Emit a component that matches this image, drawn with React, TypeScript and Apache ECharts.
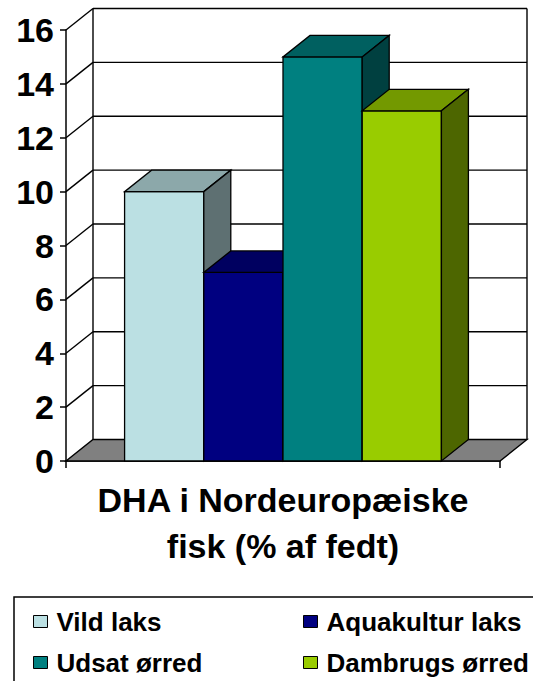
import React, { useEffect, useRef } from "react";
import * as echarts from "echarts";

const CATEGORIES = ["DHA i Nordeuropæiske\nfisk (% af fedt)"];
const SERIES_NAMES = ["Vild laks", "Aquakultur laks", "Udsat ørred", "Dambrugs ørred"];
const SERIES_VALUES = [10, 7, 15, 13];
const Y_TICKS = [0, 2, 4, 6, 8, 10, 12, 14, 16];
const FRONT_COLORS = ["#BBE0E3", "#000080", "#008080", "#99CC00"];
const TOP_COLORS = ["#8CA8AA", "#000060", "#006060", "#739900"];
const SIDE_COLORS = ["#5E7072", "#000040", "#004040", "#4D6600"];

const FONT = "'Liberation Sans', Arial, Helvetica, sans-serif";
const DX = 27;
const DY = -21.5;
const GROUP_FRAC = 0.73;
const Y_MIN = Y_TICKS[0];
const Y_MAX = Y_TICKS[Y_TICKS.length - 1];

function renderWall(params: any, api: any) {
  const cs = params.coordSys;
  const v = api.value(1);
  const y = api.coord([0, v])[1];
  const x0 = cs.x;
  const x1 = cs.x + cs.width;
  const style = { stroke: "#000", lineWidth: 1.4, fill: null };
  if (v === Y_MIN) {
    const yTop = api.coord([0, Y_MAX])[1];
    return {
      type: "group",
      children: [
        {
          type: "polygon",
          shape: { points: [[x0, y], [x1, y], [x1 + DX, y + DY], [x0 + DX, y + DY]] },
          style: { fill: "#808080", stroke: "#000", lineWidth: 1.4 },
        },
        { type: "line", shape: { x1: x0 + DX, y1: yTop + DY, x2: x0 + DX, y2: y + DY }, style },
        { type: "line", shape: { x1: x1 + DX, y1: yTop + DY, x2: x1 + DX, y2: y + DY }, style },
      ],
    };
  }
  return {
    type: "group",
    children: [
      { type: "line", shape: { x1: x0, y1: y, x2: x0 + DX, y2: y + DY }, style },
      { type: "line", shape: { x1: x0 + DX, y1: y + DY, x2: x1 + DX, y2: y + DY }, style },
    ],
  };
}

function makeBarRenderer(i: number) {
  return (params: any, api: any) => {
    const cs = params.coordSys;
    const n = SERIES_NAMES.length;
    const groupW = cs.width * GROUP_FRAC;
    const barW = groupW / n;
    const center = api.coord([api.value(0), 0])[0];
    const left = center - groupW / 2 + i * barW;
    const right = left + barW;
    const yTop = api.coord([api.value(0), api.value(1)])[1];
    const yBase = api.coord([api.value(0), Y_MIN])[1];
    const st = { stroke: "#000", lineWidth: 1.3 };
    return {
      type: "group",
      children: [
        {
          type: "rect",
          shape: { x: left, y: yTop, width: barW, height: yBase - yTop },
          style: { ...st, fill: FRONT_COLORS[i] },
        },
        {
          type: "polygon",
          shape: { points: [[left, yTop], [right, yTop], [right + DX, yTop + DY], [left + DX, yTop + DY]] },
          style: { ...st, fill: TOP_COLORS[i] },
        },
        {
          type: "polygon",
          shape: { points: [[right, yTop], [right + DX, yTop + DY], [right + DX, yBase + DY], [right, yBase]] },
          style: { ...st, fill: SIDE_COLORS[i] },
        },
      ],
    };
  };
}

export default function App() {
  const ref = useRef<HTMLDivElement>(null);
  useEffect(() => {
    if (!ref.current) return;
    const chart = echarts.init(ref.current, null, { renderer: "svg" });
    const legendText = {
      fontFamily: FONT,
      fontSize: 26,
      fontWeight: "bold" as const,
      color: "#000",
      lineHeight: 31,
      padding: [0, 0, 0, 4],
    };
    const option: any = {
      animation: false,
      backgroundColor: "#fff",
      grid: { left: 66, top: 30, width: 434, height: 431, containLabel: false },
      xAxis: {
        type: "category",
        data: CATEGORIES,
        boundaryGap: true,
        axisLine: { show: true, lineStyle: { color: "#000", width: 1.5 } },
        axisTick: { show: true, length: 7, lineStyle: { color: "#000", width: 1.5 } },
        axisLabel: {
          fontFamily: FONT,
          fontSize: 34,
          fontWeight: "bold",
          color: "#000",
          lineHeight: 46,
          margin: 16,
        },
        splitLine: { show: false },
      },
      yAxis: {
        type: "value",
        min: Y_MIN,
        max: Y_MAX,
        interval: 2,
        axisLine: { show: true, lineStyle: { color: "#000", width: 1.5 } },
        axisTick: { show: true, length: 6, lineStyle: { color: "#000", width: 1.5 } },
        axisLabel: {
          fontFamily: FONT,
          fontSize: 34,
          fontWeight: "bold",
          color: "#000",
          margin: 12,
        },
        splitLine: { show: false },
      },
      legend: [
        {
          orient: "vertical",
          left: 33,
          top: 606,
          padding: 0,
          itemGap: 10,
          itemWidth: 14,
          itemHeight: 12,
          icon: "rect",
          data: [SERIES_NAMES[0], SERIES_NAMES[2]],
          itemStyle: { borderColor: "#000", borderWidth: 1 },
          textStyle: legendText,
          selectedMode: false,
        },
        {
          orient: "vertical",
          left: 303,
          top: 606,
          padding: 0,
          itemGap: 10,
          itemWidth: 14,
          itemHeight: 12,
          icon: "rect",
          data: [SERIES_NAMES[1], SERIES_NAMES[3]],
          itemStyle: { borderColor: "#000", borderWidth: 1 },
          textStyle: legendText,
          selectedMode: false,
        },
      ],
      graphic: [
        {
          type: "rect",
          shape: { x: 14, y: 597, width: 600, height: 200 },
          style: { fill: "none", stroke: "#000", lineWidth: 1.5 },
          silent: true,
        },
      ],
      series: [
        {
          type: "custom",
          name: "walls",
          silent: true,
          z: 1,
          encode: { x: 0, y: 1 },
          data: Y_TICKS.map((v) => [0, v]),
          renderItem: renderWall,
        },
        ...SERIES_NAMES.map((name, i) => ({
          type: "custom",
          name,
          z: 3 + i,
          encode: { x: 0, y: 1 },
          itemStyle: { color: FRONT_COLORS[i] },
          data: [[0, SERIES_VALUES[i]]],
          renderItem: makeBarRenderer(i),
        })),
      ],
    };
    chart.setOption(option);
    return () => chart.dispose();
  }, []);
  return (
    <div
      ref={ref}
      style={{ position: "absolute", left: 0, top: 0, width: 533, height: 681 }}
    />
  );
}
